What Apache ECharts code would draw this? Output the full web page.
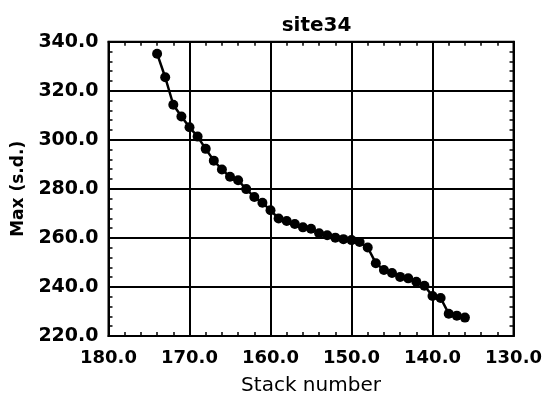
<!DOCTYPE html>
<html><head><meta charset="utf-8">
<script src="https://cdn.jsdelivr.net/npm/echarts@6/dist/echarts.min.js"></script>
<style>html,body{margin:0;padding:0;background:#fff}#c{width:545px;height:401px}</style>
</head><body><div id="c"></div>
<script>
const stackNumbers = [174,173,172,171,170,169,168,167,166,165,164,163,162,161,160,159,158,157,156,155,154,153,152,151,150,149,148,147,146,145,144,143,142,141,140,139,138,137,136];
const maxValues = [335.1,325.5,314.3,309.5,305.1,301.3,296.3,291.5,287.9,284.9,283.5,279.9,276.7,274.3,271.3,267.9,266.9,265.7,264.3,263.7,261.9,261.1,260.1,259.5,259.1,258.3,256.1,249.7,246.9,245.7,244.1,243.5,242.1,240.5,236.3,235.5,229.1,228.3,227.5];
const xTicks = {min:130, max:180, step:10};
const yTicks = {min:220, max:340, step:20};
const titleText = 'site34';
const xName = 'Stack number';
const yName = 'Max (s.d.)';

const points = stackNumbers.map((x,i)=>[x, maxValues[i]]);
const lblFont = 'DejaVu Sans';
const chart = echarts.init(document.getElementById('c'), null, {renderer:'canvas'});
const minorInside = {show:true, splitNumber:5, length:4, lineStyle:{color:'#000', width:1.5}};
const hiddenTick = {show:false, inside:true};
chart.setOption({
  animation:false,
  backgroundColor:'#fff',
  title:{text:titleText, left:311.5, top:11, textAlign:'center',
    textStyle:{fontFamily:lblFont, fontWeight:'bold', fontSize:20, color:'#000'}},
  grid:{left:108.5, right:30.5, top:41.7, bottom:59.3, show:true, borderColor:'#000', borderWidth:2},
  xAxis:[{
    type:'value', inverse:true, min:xTicks.min, max:xTicks.max, interval:xTicks.step,
    name:xName, nameLocation:'middle', nameGap:40,
    nameTextStyle:{fontFamily:lblFont, fontSize:20, color:'#000'},
    axisLine:{show:true, lineStyle:{color:'#000', width:2}},
    axisTick:hiddenTick,
    minorTick:minorInside,
    axisLabel:{formatter:v=>v.toFixed(1), fontFamily:lblFont, fontWeight:'bold', fontSize:18, color:'#000', margin:13},
    splitLine:{show:true, lineStyle:{color:'#000', width:2}}
  },{
    type:'value', inverse:true, position:'top', min:xTicks.min, max:xTicks.max, interval:xTicks.step,
    axisLine:{show:true, lineStyle:{color:'#000', width:2}},
    axisTick:hiddenTick, minorTick:minorInside, axisLabel:{show:false}, splitLine:{show:false}
  }],
  yAxis:[{
    type:'value', min:yTicks.min, max:yTicks.max, interval:yTicks.step,
    name:yName, nameLocation:'middle', nameGap:76, nameRotate:90,
    nameTextStyle:{fontFamily:lblFont, fontWeight:'bold', fontSize:17, color:'#000'},
    axisLine:{show:true, lineStyle:{color:'#000', width:2}},
    axisTick:hiddenTick, minorTick:minorInside,
    axisLabel:{formatter:v=>v.toFixed(1), fontFamily:lblFont, fontWeight:'bold', fontSize:19, color:'#000', margin:10},
    splitLine:{show:true, lineStyle:{color:'#000', width:2}}
  },{
    type:'value', position:'right', min:yTicks.min, max:yTicks.max, interval:yTicks.step,
    axisLine:{show:true, lineStyle:{color:'#000', width:2}},
    axisTick:hiddenTick, minorTick:minorInside, axisLabel:{show:false}, splitLine:{show:false}
  }],
  series:[{
    type:'line', data:points, xAxisIndex:0, yAxisIndex:0,
    symbol:'circle', symbolSize:10, showSymbol:true,
    lineStyle:{color:'#000', width:2.5}, itemStyle:{color:'#000'}
  }]
});
</script></body></html>
